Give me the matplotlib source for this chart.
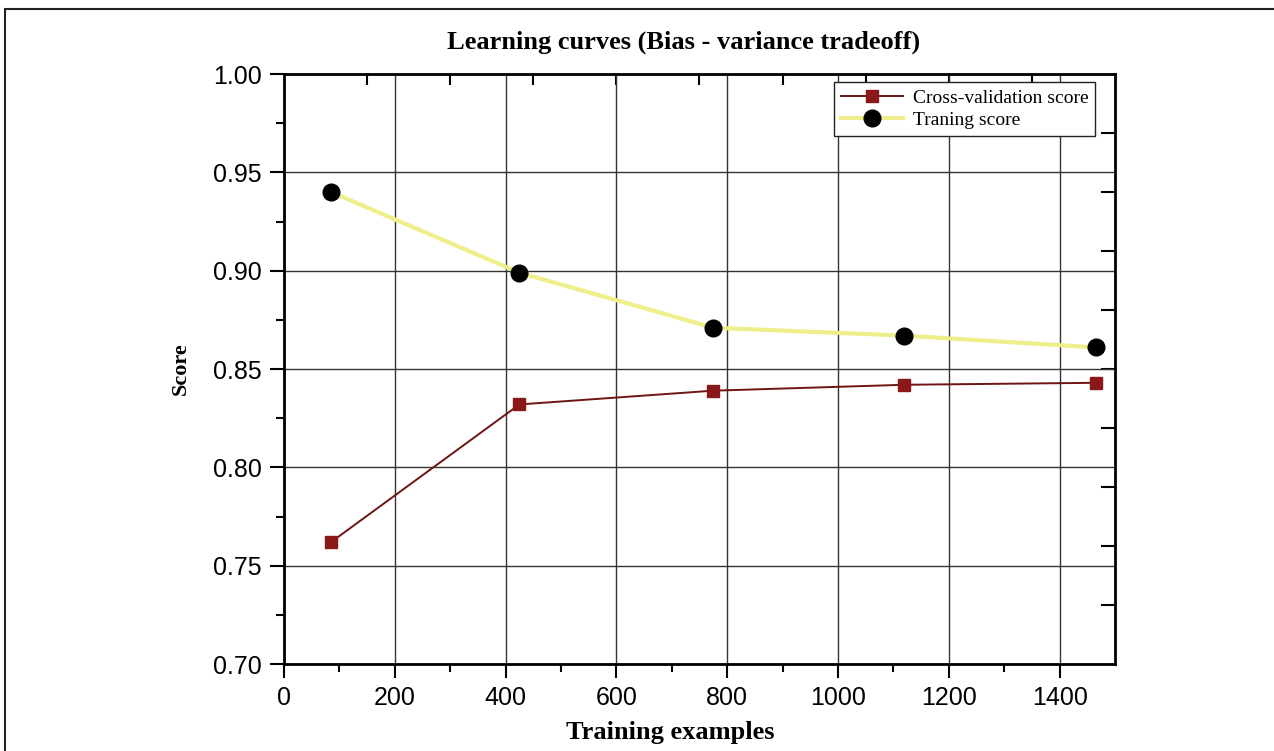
import matplotlib
matplotlib.use("Agg")
import matplotlib.pyplot as plt
from matplotlib.patches import Rectangle
import numpy as np

# values
train_sizes = [85, 425, 775, 1120, 1465]
cv_score = [0.762, 0.832, 0.839, 0.842, 0.843]
train_score = [0.940, 0.899, 0.871, 0.867, 0.861]

xticks = [0, 200, 400, 600, 800, 1000, 1200, 1400]
yticks = [0.70, 0.75, 0.80, 0.85, 0.90, 0.95, 1.00]

fig = plt.figure(figsize=(12.74, 7.51), dpi=100)
ax = fig.add_axes([0.2229, 0.1158, 0.6523, 0.7856])

# frame round the whole picture
fig.patches.append(Rectangle((0.004, -0.01), 1.2, 0.998, transform=fig.transFigure,
                             fill=False, edgecolor='#222222', linewidth=1.5))

ax.plot(train_sizes, cv_score, color='#6e1414', linewidth=1.4, marker='s',
        markersize=9, markerfacecolor='#8b1818', markeredgecolor='#8b1818',
        label='Cross-validation score', zorder=3)
ax.plot(train_sizes, train_score, color='#eeee8a', linewidth=3, marker='o',
        markersize=12, markerfacecolor='black', markeredgecolor='black',
        label='Traning score', zorder=3)

ax.set_xlim(0, 1500)
ax.set_ylim(0.70, 1.00)
ax.set_xticks(xticks)
ax.set_yticks(yticks)
ax.set_xticklabels([str(v) for v in xticks])
ax.set_yticklabels(['%.2f' % v for v in yticks])
ax.set_xticks(np.arange(100, 1500, 200), minor=True)
ax.set_yticks(np.arange(0.725, 1.0, 0.05), minor=True)

ax.grid(True, which='major', color='#333333', linewidth=1.0)
ax.set_axisbelow(True)

for s in ax.spines.values():
    s.set_linewidth(2)

ax.tick_params(axis='both', which='major', direction='out', length=10, width=1.5,
               labelsize=18, pad=6)
ax.tick_params(axis='both', which='minor', direction='out', length=6, width=1.5)
for lab in ax.get_xticklabels() + ax.get_yticklabels():
    lab.set_fontfamily('Liberation Sans')

# inner ticks on the top and right edges (no labels)
top = ax.secondary_xaxis('top')
top.set_xticks(np.arange(150, 1500, 150))
top.tick_params(direction='in', length=8, width=1.5, labeltop=False)
top.spines['top'].set_visible(False)
right = ax.secondary_yaxis('right')
right.set_yticks(np.arange(0.73, 0.99, 0.03))
right.tick_params(direction='in', length=10, width=1.5, labelright=False)
right.spines['right'].set_visible(False)

ax.set_title('Learning curves (Bias - variance tradeoff)', fontsize=19,
             fontweight='bold', fontfamily='Liberation Serif', pad=18, x=0.481)
ax.set_xlabel('Training examples', fontsize=19, fontweight='bold',
              fontfamily='Liberation Serif', labelpad=8, x=0.465)
ax.set_ylabel('Score', fontsize=16, fontweight='bold',
              fontfamily='Liberation Serif', labelpad=16)

leg = ax.legend(loc='upper right', bbox_to_anchor=(0.976, 0.986), borderaxespad=0,
                fancybox=False, framealpha=1, edgecolor='#222222',
                prop={'family': 'Liberation Serif', 'size': 14},
                handlelength=3.2, borderpad=0.35, labelspacing=0.25, handletextpad=0.5)
leg.get_frame().set_linewidth(1.0)

fig.savefig('out.png', dpi=100)
